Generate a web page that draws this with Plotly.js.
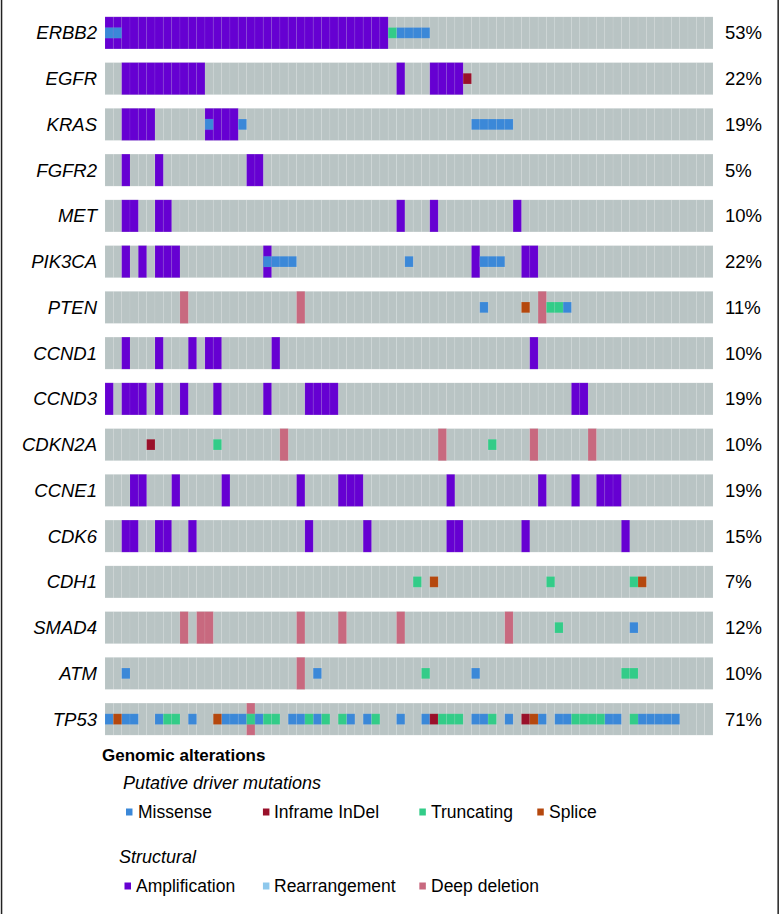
<!DOCTYPE html>
<html>
<head>
<meta charset="utf-8">
<script src="https://cdn.plot.ly/plotly-3.0.1.min.js"></script>
<style>html,body{margin:0;padding:0;background:#fff;}#chart{width:781px;height:914px;}</style>
</head>
<body>
<div id="chart"></div>
<script>
// ---- data ----
var genes = ['ERBB2','EGFR','KRAS','FGFR2','MET','PIK3CA','PTEN','CCND1','CCND3','CDKN2A','CCNE1','CDK6','CDH1','SMAD4','ATM','TP53'];
var pctLabels = ['53%','22%','19%','5%','10%','22%','11%','10%','19%','10%','19%','15%','7%','12%','10%','71%'];
var nSamples = 73;

// sample (column) indices per gene, same order as genes
var amplification = [
  [0,1,2,3,4,5,6,7,8,9,10,11,12,13,14,15,16,17,18,19,20,21,22,23,24,25,26,27,28,29,30,31,32,33],
  [2,3,4,5,6,7,8,9,10,11,35,39,40,41,42],
  [2,3,4,5,12,13,14,15],
  [2,6,17,18],
  [2,3,6,7,35,39,49],
  [2,4,6,7,8,19,44,50,51],
  [],
  [2,6,10,12,13,20,51],
  [0,2,3,4,6,9,13,19,24,25,26,27,56,57],
  [],
  [3,4,8,14,23,28,29,30,41,52,56,59,60,61],
  [2,3,6,7,10,24,31,41,42,50,62],
  [],[],[],[]
];
var rearrangement = [[],[],[],[],[],[],[],[],[],[],[],[],[],[],[],[]];
var deepDeletion = [
  [],[],[],[],[],[],
  [9,23,52],
  [],[],
  [21,40,51,58],
  [],[],[],
  [9,11,12,23,28,35,48],
  [23],
  [17]
];
var missense = [
  [0,1,35,36,37,38],
  [],
  [12,16,44,45,46,47,48],
  [],[],
  [19,20,21,22,36,45,46,47],
  [45,55],
  [],[],[],[],[],[],
  [63],
  [2,25,44],
  [0,2,3,6,10,14,15,16,18,22,23,25,29,31,35,38,44,45,48,52,54,55,60,61,64,65,66,67,68]
];
var inframeIndel = [
  [],[43],[],[],[],[],[],[],[],[5],[],[],[],[],[],[39,50]
];
var truncating = [
  [34],[],[],[],[],[],
  [53,54],
  [],[],
  [13,46],
  [],[],
  [37,53,63],
  [54],
  [38,62,63],
  [7,8,17,19,20,24,26,28,32,40,41,42,46,56,57,58,59,63]
];
var splice = [
  [],[],[],[],[],[],
  [50],
  [],[],[],[],[],
  [39,64],
  [],[],
  [1,13,51]
];

// ---- styling ----
var C = {
  bg: '#b9c4c4',
  amp: '#6600d2',
  rearr: '#8ec8ec',
  del: '#c8697f',
  mis: '#3b88d8',
  inf: '#99102a',
  trunc: '#33cc88',
  splice: '#b5480e'
};
var HALF = 0.35;      // half height of a full cell (in row units)
var INNER = HALF/3;   // half height of a mutation glyph

function buildTrace(sets, color, half, name) {
  var xs = [], ys = [], bases = [];
  sets.forEach(function(cols, gi) {
    cols.forEach(function(c) {
      xs.push(c); ys.push(2*half); bases.push(gi - half);
    });
  });
  return {
    type: 'bar', name: name, x: xs, y: ys, base: bases, width: 1,
    marker: {color: color, line: {color: 'rgba(255,255,255,0.12)', width: 0.6}},
    hoverinfo: 'skip', showlegend: false
  };
}

var bgSets = genes.map(function(){ var a=[]; for (var i=0;i<nSamples;i++) a.push(i); return a; });

var traces = [
  buildTrace(bgSets, C.bg, HALF, 'bg'),
  buildTrace(amplification, C.amp, HALF, 'Amplification'),
  buildTrace(deepDeletion, C.del, HALF, 'Deep deletion'),
  buildTrace(rearrangement, C.rearr, INNER, 'Rearrangement'),
  buildTrace(missense, C.mis, INNER, 'Missense'),
  buildTrace(inframeIndel, C.inf, INNER, 'Inframe InDel'),
  buildTrace(truncating, C.trunc, INNER, 'Truncating'),
  buildTrace(splice, C.splice, INNER, 'Splice'),
  {type:'scatter', x:[0], y:[0], yaxis:'y2', mode:'markers', marker:{opacity:0}, hoverinfo:'skip', showlegend:false}
];

// geometry helpers (pixel -> paper)
var ML = 105, MR = 781-713.3, MT = 10, MB = 172;
var PW = 781 - ML - MR, PH = 914 - MT - MB;
function px(x){ return (x - ML)/PW; }
function py(y){ return (914 - MB - y)/PH; }

var annotations = [];
var shapes = [];
function txt(t, x, y, font) {
  annotations.push({text: t, xref:'paper', yref:'paper', x: px(x), y: py(y),
    xanchor:'left', yanchor:'middle', showarrow:false, font: font});
}
function sq(x, y, color) {
  shapes.push({type:'rect', xref:'paper', yref:'paper', x0: px(x), x1: px(x+6.5), y0: py(y+3.5), y1: py(y-3.5),
    fillcolor: color, line:{width:0}});
}
var F = 'Liberation Sans, Arial, sans-serif';
txt('<b>Genomic alterations</b>', 100, 755, {family:F, size:17, color:'#000'});
txt('<i>Putative driver mutations</i>', 121, 783, {family:F, size:18, color:'#000'});
var row1 = 812;
sq(126, row1, C.mis);    txt('Missense', 136, row1, {family:F, size:17.5, color:'#000'});
sq(263, row1, C.inf);    txt('Inframe InDel', 272.5, row1, {family:F, size:17.5, color:'#000'});
sq(419.5, row1, C.trunc);txt('Truncating', 429, row1, {family:F, size:17.5, color:'#000'});
sq(537.5, row1, C.splice);txt('Splice', 547, row1, {family:F, size:17.5, color:'#000'});
txt('<i>Structural</i>', 117, 857, {family:F, size:18, color:'#000'});
var row2 = 886;
sq(124.5, row2, C.amp);  txt('Amplification', 134, row2, {family:F, size:17.5, color:'#000'});
sq(263, row2, C.rearr);  txt('Rearrangement', 272.5, row2, {family:F, size:17.5, color:'#000'});
sq(419.5, row2, C.del);  txt('Deep deletion', 429, row2, {family:F, size:17.5, color:'#000'});

// outer frame lines
shapes.push({type:'line', xref:'paper', yref:'paper', x0:px(1.5), x1:px(1.5), y0:py(0), y1:py(914), line:{color:'#222', width:1.5}});
shapes.push({type:'line', xref:'paper', yref:'paper', x0:px(778.5), x1:px(778.5), y0:py(0), y1:py(914), line:{color:'#222', width:1.5}});

var tickvals = genes.map(function(g,i){return i;});
var layout = {
  width: 781, height: 914,
  margin: {l: ML, r: MR, t: MT, b: MB, pad: 0},
  paper_bgcolor: '#fff', plot_bgcolor: '#fff',
  barmode: 'overlay', bargap: 0,
  showlegend: false,
  xaxis: {range: [-0.5, nSamples - 0.5], visible: false, fixedrange: true},
  yaxis: {range: [genes.length - 0.5, -0.5], tickvals: tickvals,
    ticktext: genes.map(function(g){return '<i>'+g+'</i>';}),
    showgrid: false, zeroline: false, showline: false, ticks: '',
    ticklabelstandoff: 7,
    tickfont: {family: F, size: 18.5, color: '#000'}},
  yaxis2: {range: [genes.length - 0.5, -0.5], overlaying: 'y', side: 'right',
    tickvals: tickvals, ticktext: pctLabels,
    showgrid: false, zeroline: false, showline: false, ticks: '',
    ticklabelstandoff: 11,
    tickfont: {family: F, size: 18.5, color: '#000'}},
  annotations: annotations,
  shapes: shapes
};

Plotly.newPlot('chart', traces, layout, {displayModeBar: false, staticPlot: true});
</script>
</body>
</html>
